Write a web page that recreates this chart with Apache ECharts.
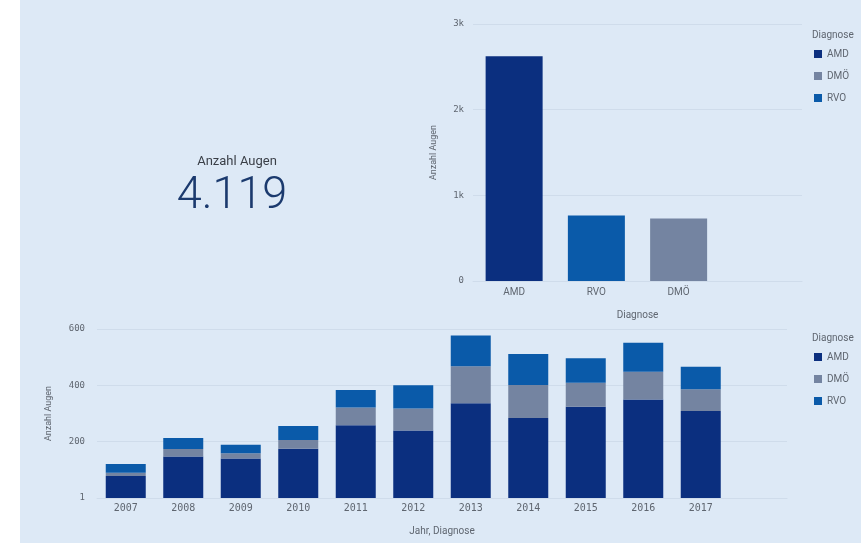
<!DOCTYPE html>
<html>
<head>
<meta charset="utf-8">
<script src="https://cdn.jsdelivr.net/npm/echarts@6/dist/echarts.min.js"></script>
<style>
  html, body { margin: 0; padding: 0; background: #ffffff; }
  #chart { position: absolute; left: 0; top: 0; width: 861px; height: 543px; }
  #bg { position: absolute; left: 20px; top: 0; width: 841px; height: 543px; background: #dde9f6; }
</style>
</head>
<body>
<div id="bg"></div>
<div id="chart"></div>
<script>
// Summary per diagnosis
const diagnoseCats = ["AMD", "RVO", "DMÖ"];
const diagnoseTotals = [2625, 764, 730];
const totalAugen = "4.119";

// Per year, stacked by diagnosis
const years = ["2007", "2008", "2009", "2010", "2011", "2012", "2013", "2014", "2015", "2016", "2017"];
const amdByYear = [78, 147, 140, 175, 258, 240, 336, 284, 324, 350, 309];
const dmoByYear = [12, 27, 19, 31, 63, 78, 132, 117, 85, 98, 77];
const rvoByYear = [31, 39, 30, 50, 62, 82, 109, 110, 87, 103, 80];

const topTicks = [0, 1000, 2000, 3000];
const bottomTicks = [0, 200, 400, 600];

const COLORS = { AMD: "#0b2f7f", "DMÖ": "#7484a1", RVO: "#0a5aa9" };
const GRID_LINE = "#cfdceb";
const LABEL = "#5f6670";
const MONO = "DejaVu Sans Mono";
const SANS = "Roboto";

const chart = echarts.init(document.getElementById("chart"), null, { renderer: "canvas" });

// top chart: one series per diagnosis, only its own category filled
const topSeries = diagnoseCats.map((name, i) => ({
  name,
  type: "bar",
  xAxisIndex: 0,
  yAxisIndex: 0,
  stack: "diag",
  barWidth: 57,
  itemStyle: { color: COLORS[name] },
  data: diagnoseCats.map((_, j) => (j === i ? diagnoseTotals[i] : "-")).concat(["-"]),
}));

const yearSeries = [
  ["AMD", amdByYear],
  ["DMÖ", dmoByYear],
  ["RVO", rvoByYear],
].map(([name, vals]) => ({
  name,
  type: "bar",
  xAxisIndex: 1,
  yAxisIndex: 1,
  stack: "year",
  barWidth: 40,
  itemStyle: { color: COLORS[name] },
  data: vals.concat(["-"]),
}));

const legendBase = {
  orient: "vertical",
  icon: "rect",
  itemWidth: 8,
  itemHeight: 8,
  itemGap: 12,
  data: ["AMD", "DMÖ", "RVO"],
  textStyle: { color: LABEL, fontSize: 10, fontFamily: SANS },
};

chart.setOption({
  backgroundColor: "transparent",
  animation: false,
  title: [
    {
      text: "Anzahl Augen",
      left: 232, top: 150, textAlign: "center",
      textStyle: { color: "#3a3f47", fontSize: 13, fontWeight: "normal", fontFamily: SANS },
    },
    {
      text: totalAugen,
      left: 227, top: 169, textAlign: "center",
      textStyle: { color: "#1b3a6e", fontSize: 45, fontWeight: 300, fontFamily: SANS },
    },
    {
      text: "Diagnose", left: 807, top: 25,
      textStyle: { color: LABEL, fontSize: 10, fontWeight: "normal", fontFamily: SANS },
    },
    {
      text: "Diagnose", left: 807, top: 328,
      textStyle: { color: LABEL, fontSize: 10, fontWeight: "normal", fontFamily: SANS },
    },
  ],
  legend: [
    { ...legendBase, left: 809, top: 44 },
    { ...legendBase, left: 809, top: 347 },
  ],
  grid: [
    { left: 473, right: 59, top: 24, bottom: 262 },
    { left: 97, right: 74, top: 329, bottom: 45 },
  ],
  xAxis: [
    {
      gridIndex: 0,
      type: "category",
      data: diagnoseCats.concat([""]),
      name: "Diagnose",
      nameLocation: "middle",
      nameGap: 29,
      nameTextStyle: { color: LABEL, fontSize: 10, fontFamily: SANS },
      axisLine: { lineStyle: { color: GRID_LINE } },
      axisTick: { show: false },
      axisLabel: { color: LABEL, fontSize: 10, fontFamily: SANS, margin: 6 },
    },
    {
      gridIndex: 1,
      type: "category",
      data: years.concat([""]),
      name: "Jahr, Diagnose",
      nameLocation: "middle",
      nameGap: 28,
      nameTextStyle: { color: LABEL, fontSize: 10, fontFamily: SANS },
      axisLine: { lineStyle: { color: GRID_LINE } },
      axisTick: { show: false },
      axisLabel: { color: LABEL, fontSize: 10, fontFamily: MONO, margin: 5 },
    },
  ],
  yAxis: [
    {
      gridIndex: 0,
      type: "value",
      min: topTicks[0],
      max: topTicks[topTicks.length - 1],
      interval: 1000,
      name: "Anzahl Augen",
      nameLocation: "middle",
      nameGap: 35,
      nameTextStyle: { color: LABEL, fontSize: 9, fontFamily: SANS },
      axisLine: { show: false },
      axisTick: { show: false },
      splitLine: { lineStyle: { color: GRID_LINE } },
      axisLabel: {
        color: LABEL, fontSize: 9, fontFamily: MONO, margin: 9,
        formatter: (v) => (v === 0 ? "0" : v / 1000 + "k"),
      },
    },
    {
      gridIndex: 1,
      type: "value",
      min: bottomTicks[0],
      max: bottomTicks[bottomTicks.length - 1],
      interval: 200,
      name: "Anzahl Augen",
      nameLocation: "middle",
      nameGap: 44,
      nameTextStyle: { color: LABEL, fontSize: 9, fontFamily: SANS },
      axisLine: { show: false },
      axisTick: { show: false },
      splitLine: { lineStyle: { color: GRID_LINE } },
      axisLabel: {
        color: LABEL, fontSize: 9, fontFamily: MONO, margin: 12,
        formatter: (v) => (v === 0 ? "1" : String(v)),
      },
    },
  ],
  series: topSeries.concat(yearSeries),
});
</script>
</body>
</html>
